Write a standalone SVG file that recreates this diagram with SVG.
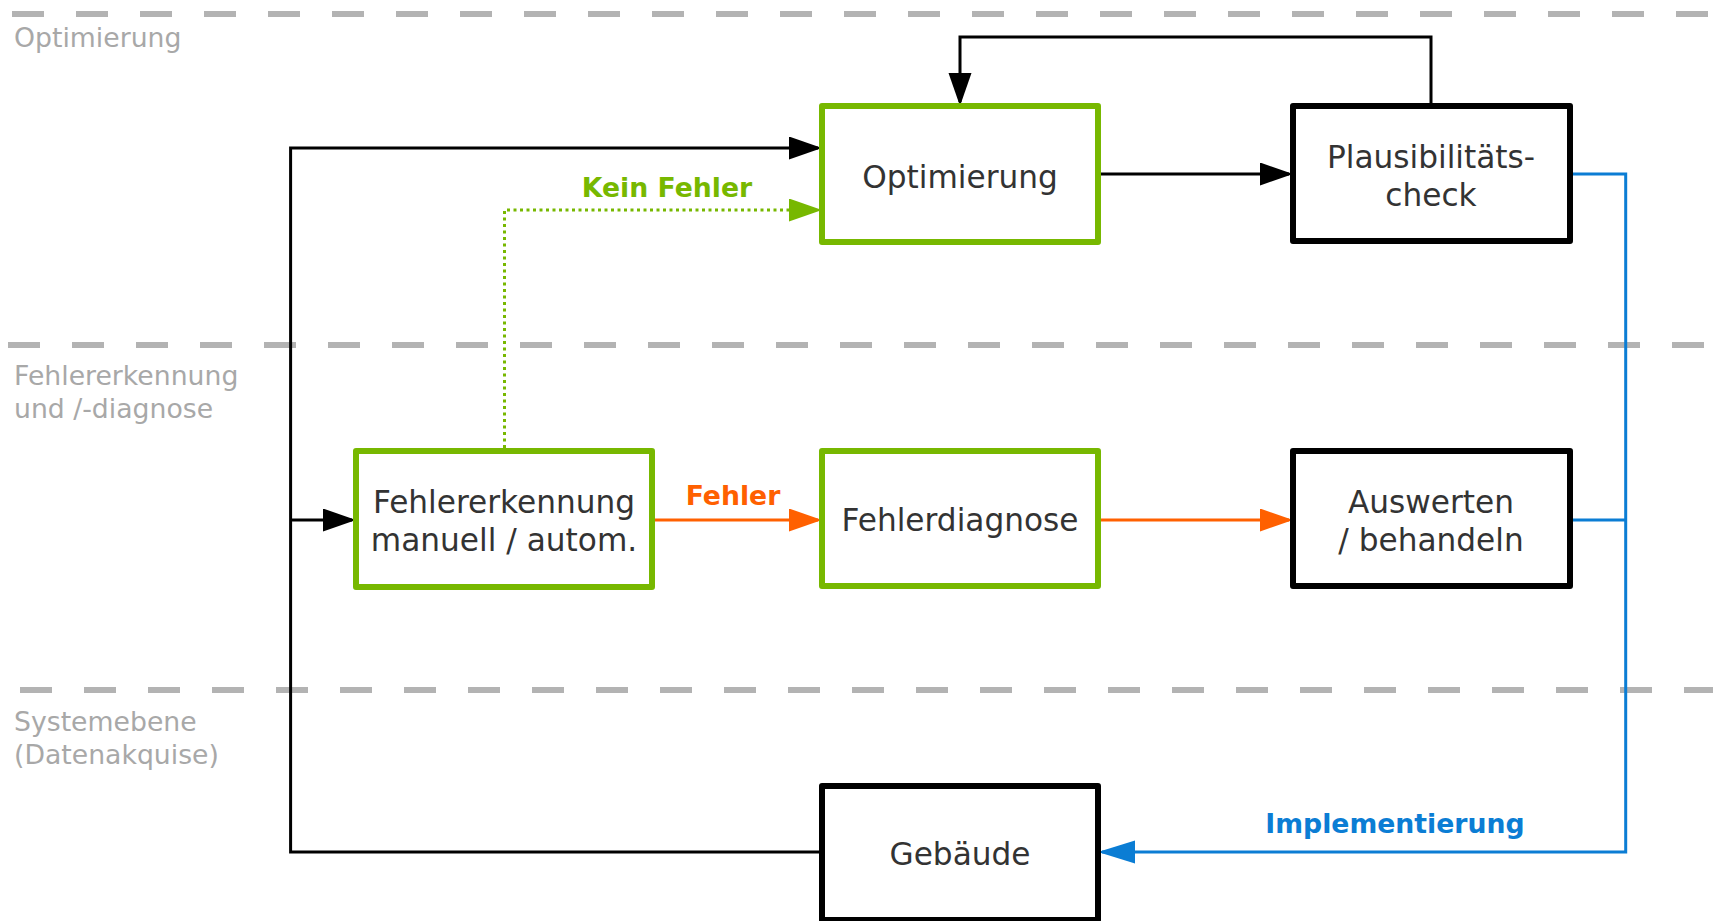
<svg xmlns="http://www.w3.org/2000/svg" width="1713" height="921" viewBox="0 0 1713 921">
  <style>
    .lane { stroke: #b3b3b3; stroke-width: 6; stroke-dasharray: 32 32; fill: none; }
    .lanelbl { font-family: "DejaVu Sans", Verdana, sans-serif; font-size: 26.7px; fill: #a8a8a8; }
    .box { fill: #ffffff; stroke-width: 6; stroke-linejoin: round; }
    .g { stroke: #77b800; }
    .k { stroke: #000000; }
    .txt { font-family: "DejaVu Sans", Verdana, sans-serif; font-size: 31.2px; fill: #333333; text-anchor: middle; }
    .lbl { font-family: "DejaVu Sans", Verdana, sans-serif; font-size: 26.7px; font-weight: bold; text-anchor: middle; }
    .c { fill: none; stroke-width: 3; stroke-linejoin: miter; }
  </style>
  <defs>
    <marker id="ak" markerUnits="userSpaceOnUse" markerWidth="34" markerHeight="24" refX="29" refY="11.5" orient="auto">
      <path d="M0,0 L33,11.5 L0,23 z" fill="#000000"/>
    </marker>
    <marker id="ag" markerUnits="userSpaceOnUse" markerWidth="34" markerHeight="24" refX="29" refY="11.5" orient="auto">
      <path d="M0,0 L33,11.5 L0,23 z" fill="#77b800"/>
    </marker>
    <marker id="ao" markerUnits="userSpaceOnUse" markerWidth="34" markerHeight="24" refX="29" refY="11.5" orient="auto">
      <path d="M0,0 L33,11.5 L0,23 z" fill="#ff6000"/>
    </marker>
    <marker id="ab" markerUnits="userSpaceOnUse" markerWidth="38" markerHeight="24" refX="33" refY="11.5" orient="auto">
      <path d="M0,0 L37,11.5 L0,23 z" fill="#0b7dd4"/>
    </marker>
  </defs>

  <g id="lanes">
    <line class="lane" x1="12" y1="14" x2="1713" y2="14"/>
    <line class="lane" x1="8" y1="345" x2="1713" y2="345"/>
    <line class="lane" x1="20" y1="690" x2="1713" y2="690"/>
    <text class="lanelbl" x="14" y="47">Optimierung</text>
    <text class="lanelbl" x="14" y="385">Fehlererkennung</text>
    <text class="lanelbl" x="14" y="418">und /-diagnose</text>
    <text class="lanelbl" x="14" y="731">Systemebene</text>
    <text class="lanelbl" x="14" y="764">(Datenakquise)</text>
  </g>

  <g id="connectors">
    <path class="c" stroke="#000000" d="M822,852 H290.6 V148 H818" marker-end="url(#ak)"/>
    <path class="c" stroke="#000000" d="M290.6,520 H352" marker-end="url(#ak)"/>
    <path class="c" stroke="#000000" d="M1098,174 H1289" marker-end="url(#ak)"/>
    <path class="c" stroke="#000000" d="M1431,106 V37 H960 V102" marker-end="url(#ak)"/>
    <path class="c" stroke="#77b800" stroke-dasharray="3 3.5" d="M504.5,448 V210 H818" marker-end="url(#ag)"/>
    <path class="c" stroke="#ff6000" d="M652,520 H818" marker-end="url(#ao)"/>
    <path class="c" stroke="#ff6000" d="M1098,520 H1289" marker-end="url(#ao)"/>
    <path class="c" stroke="#0b7dd4" d="M1570,174 H1625.7 V852 H1102" marker-end="url(#ab)"/>
    <path class="c" stroke="#0b7dd4" d="M1570,520 H1625.7"/>
    <text class="lbl" x="667" y="197" fill="#77b800">Kein Fehler</text>
    <text class="lbl" x="733" y="505" fill="#ff6000">Fehler</text>
    <text class="lbl" x="1395" y="833" fill="#0b7dd4">Implementierung</text>
  </g>

  <g id="node-optimierung">
    <rect class="box g" x="822" y="106" width="276" height="136"/>
    <text class="txt" x="960" y="188">Optimierung</text>
  </g>
  <g id="node-plausibilitaet">
    <rect class="box k" x="1293" y="106" width="277" height="135"/>
    <text class="txt" x="1431" y="168">Plausibilitäts-</text>
    <text class="txt" x="1431" y="206">check</text>
  </g>
  <g id="node-fehlererkennung">
    <rect class="box g" x="356" y="451" width="296" height="136"/>
    <text class="txt" x="504" y="513">Fehlererkennung</text>
    <text class="txt" x="504" y="551">manuell / autom.</text>
  </g>
  <g id="node-fehlerdiagnose">
    <rect class="box g" x="822" y="451" width="276" height="135"/>
    <text class="txt" x="960" y="531">Fehlerdiagnose</text>
  </g>
  <g id="node-auswerten">
    <rect class="box k" x="1293" y="451" width="277" height="135"/>
    <text class="txt" x="1431" y="513">Auswerten</text>
    <text class="txt" x="1431" y="551">/ behandeln</text>
  </g>
  <g id="node-gebaeude">
    <rect class="box k" x="822" y="786" width="276" height="134"/>
    <text class="txt" x="960" y="865">Gebäude</text>
  </g>
</svg>
